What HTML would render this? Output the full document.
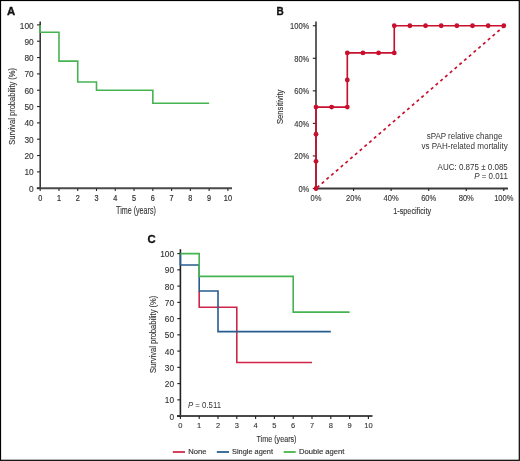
<!DOCTYPE html>
<html><head><meta charset="utf-8"><style>
html,body{margin:0;padding:0;background:#fff;}
svg{display:block;font-family:"Liberation Sans", sans-serif;will-change:transform;}
.c{stroke:#333;stroke-width:0.12px;}
.l{stroke:#333;stroke-width:0.15px;}
.t{stroke:#333;stroke-width:0.12px;}
.t2{stroke:#333;stroke-width:0.22px;}
</style></head><body>
<svg width="520" height="461" viewBox="0 0 520 461">
<rect x="0" y="0" width="520" height="461" fill="#fff"/>
<text x="7" y="15" font-size="11.3" text-anchor="start" fill="#111" font-weight="bold" stroke="#111" stroke-width="0.35">A</text>
<line x1="40.2" y1="21.5" x2="40.2" y2="188.95" stroke="#383838" stroke-width="1.6" />
<line x1="36.8" y1="188.2" x2="232" y2="188.2" stroke="#4a4a4a" stroke-width="2" />
<line x1="37" y1="188.2" x2="40.2" y2="188.2" stroke="#2a2a2a" stroke-width="1.1" />
<text x="33.7" y="191.8" font-size="8.3" text-anchor="end" fill="#333" font-weight="normal" class="t">0</text>
<line x1="37" y1="171.87" x2="40.2" y2="171.87" stroke="#2a2a2a" stroke-width="1.1" />
<text x="33.7" y="175.47" font-size="8.3" text-anchor="end" fill="#333" font-weight="normal" class="t">10</text>
<line x1="37" y1="155.54" x2="40.2" y2="155.54" stroke="#2a2a2a" stroke-width="1.1" />
<text x="33.7" y="159.14" font-size="8.3" text-anchor="end" fill="#333" font-weight="normal" class="t">20</text>
<line x1="37" y1="139.21" x2="40.2" y2="139.21" stroke="#2a2a2a" stroke-width="1.1" />
<text x="33.7" y="142.81" font-size="8.3" text-anchor="end" fill="#333" font-weight="normal" class="t">30</text>
<line x1="37" y1="122.88" x2="40.2" y2="122.88" stroke="#2a2a2a" stroke-width="1.1" />
<text x="33.7" y="126.48" font-size="8.3" text-anchor="end" fill="#333" font-weight="normal" class="t">40</text>
<line x1="37" y1="106.55" x2="40.2" y2="106.55" stroke="#2a2a2a" stroke-width="1.1" />
<text x="33.7" y="110.15" font-size="8.3" text-anchor="end" fill="#333" font-weight="normal" class="t">50</text>
<line x1="37" y1="90.22" x2="40.2" y2="90.22" stroke="#2a2a2a" stroke-width="1.1" />
<text x="33.7" y="93.82" font-size="8.3" text-anchor="end" fill="#333" font-weight="normal" class="t">60</text>
<line x1="37" y1="73.89" x2="40.2" y2="73.89" stroke="#2a2a2a" stroke-width="1.1" />
<text x="33.7" y="77.49" font-size="8.3" text-anchor="end" fill="#333" font-weight="normal" class="t">70</text>
<line x1="37" y1="57.56" x2="40.2" y2="57.56" stroke="#2a2a2a" stroke-width="1.1" />
<text x="33.7" y="61.16" font-size="8.3" text-anchor="end" fill="#333" font-weight="normal" class="t">80</text>
<line x1="37" y1="41.23" x2="40.2" y2="41.23" stroke="#2a2a2a" stroke-width="1.1" />
<text x="33.7" y="44.83" font-size="8.3" text-anchor="end" fill="#333" font-weight="normal" class="t">90</text>
<line x1="37" y1="24.9" x2="40.2" y2="24.9" stroke="#2a2a2a" stroke-width="1.1" />
<text x="33.7" y="28.5" font-size="8.3" text-anchor="end" fill="#333" font-weight="normal" class="t">100</text>
<line x1="40.2" y1="188.2" x2="40.2" y2="191" stroke="#2a2a2a" stroke-width="1.1" />
<text x="40.2" y="200.5" font-size="8.7" text-anchor="middle" fill="#333" font-weight="normal" textLength="4.06" lengthAdjust="spacingAndGlyphs" class="t2">0</text>
<line x1="58.97" y1="188.2" x2="58.97" y2="191" stroke="#2a2a2a" stroke-width="1.1" />
<text x="58.97" y="200.5" font-size="8.7" text-anchor="middle" fill="#333" font-weight="normal" textLength="4.06" lengthAdjust="spacingAndGlyphs" class="t2">1</text>
<line x1="77.74" y1="188.2" x2="77.74" y2="191" stroke="#2a2a2a" stroke-width="1.1" />
<text x="77.74" y="200.5" font-size="8.7" text-anchor="middle" fill="#333" font-weight="normal" textLength="4.06" lengthAdjust="spacingAndGlyphs" class="t2">2</text>
<line x1="96.51" y1="188.2" x2="96.51" y2="191" stroke="#2a2a2a" stroke-width="1.1" />
<text x="96.51" y="200.5" font-size="8.7" text-anchor="middle" fill="#333" font-weight="normal" textLength="4.06" lengthAdjust="spacingAndGlyphs" class="t2">3</text>
<line x1="115.28" y1="188.2" x2="115.28" y2="191" stroke="#2a2a2a" stroke-width="1.1" />
<text x="115.28" y="200.5" font-size="8.7" text-anchor="middle" fill="#333" font-weight="normal" textLength="4.06" lengthAdjust="spacingAndGlyphs" class="t2">4</text>
<line x1="134.05" y1="188.2" x2="134.05" y2="191" stroke="#2a2a2a" stroke-width="1.1" />
<text x="134.05" y="200.5" font-size="8.7" text-anchor="middle" fill="#333" font-weight="normal" textLength="4.06" lengthAdjust="spacingAndGlyphs" class="t2">5</text>
<line x1="152.82" y1="188.2" x2="152.82" y2="191" stroke="#2a2a2a" stroke-width="1.1" />
<text x="152.82" y="200.5" font-size="8.7" text-anchor="middle" fill="#333" font-weight="normal" textLength="4.06" lengthAdjust="spacingAndGlyphs" class="t2">6</text>
<line x1="171.59" y1="188.2" x2="171.59" y2="191" stroke="#2a2a2a" stroke-width="1.1" />
<text x="171.59" y="200.5" font-size="8.7" text-anchor="middle" fill="#333" font-weight="normal" textLength="4.06" lengthAdjust="spacingAndGlyphs" class="t2">7</text>
<line x1="190.36" y1="188.2" x2="190.36" y2="191" stroke="#2a2a2a" stroke-width="1.1" />
<text x="190.36" y="200.5" font-size="8.7" text-anchor="middle" fill="#333" font-weight="normal" textLength="4.06" lengthAdjust="spacingAndGlyphs" class="t2">8</text>
<line x1="209.13" y1="188.2" x2="209.13" y2="191" stroke="#2a2a2a" stroke-width="1.1" />
<text x="209.13" y="200.5" font-size="8.7" text-anchor="middle" fill="#333" font-weight="normal" textLength="4.06" lengthAdjust="spacingAndGlyphs" class="t2">9</text>
<line x1="227.9" y1="188.2" x2="227.9" y2="191" stroke="#2a2a2a" stroke-width="1.1" />
<text x="227.9" y="200.5" font-size="8.7" text-anchor="middle" fill="#333" font-weight="normal" textLength="8.13" lengthAdjust="spacingAndGlyphs" class="t2">10</text>
<text x="136" y="213.75" font-size="10.2" text-anchor="middle" fill="#333" font-weight="normal" textLength="39.8" lengthAdjust="spacingAndGlyphs" class="c">Time (years)</text>
<text transform="translate(15.2,106.4) rotate(-90)" x="0" y="0" font-size="9.5" text-anchor="middle" fill="#333" textLength="76.8" lengthAdjust="spacingAndGlyphs" class="c">Survival probability (%)</text>
<path d="M40.20,24.90 L40.20,32.25 L58.97,32.25 L58.97,61.15 L77.74,61.15 L77.74,82.05 L96.51,82.05 L96.51,90.22 L152.82,90.22 L152.82,103.28 L209.13,103.28" stroke="#45b450" stroke-width="1.6" fill="none" />
<text x="276.4" y="14.8" font-size="10.8" text-anchor="start" fill="#111" font-weight="bold" textLength="7.2" lengthAdjust="spacingAndGlyphs" stroke="#111" stroke-width="0.35">B</text>
<line x1="316" y1="21.5" x2="316" y2="188.5" stroke="#606060" stroke-width="2" />
<line x1="316" y1="188.5" x2="508" y2="188.5" stroke="#3a3a3a" stroke-width="2" />
<line x1="312.8" y1="188.5" x2="316" y2="188.5" stroke="#222" stroke-width="1.1" />
<text x="309.3" y="191.8" font-size="8.2" text-anchor="end" fill="#333" font-weight="normal" textLength="10.9" lengthAdjust="spacingAndGlyphs" class="t">0%</text>
<line x1="316" y1="188.5" x2="316" y2="191" stroke="#222" stroke-width="1.1" />
<text x="316" y="200.7" font-size="8.2" text-anchor="middle" fill="#333" font-weight="normal" textLength="10.9" lengthAdjust="spacingAndGlyphs" class="t">0%</text>
<line x1="312.8" y1="155.95" x2="316" y2="155.95" stroke="#222" stroke-width="1.1" />
<text x="309.3" y="159.25" font-size="8.2" text-anchor="end" fill="#333" font-weight="normal" textLength="15.1" lengthAdjust="spacingAndGlyphs" class="t">20%</text>
<line x1="353.56" y1="188.5" x2="353.56" y2="191" stroke="#222" stroke-width="1.1" />
<text x="353.56" y="200.7" font-size="8.2" text-anchor="middle" fill="#333" font-weight="normal" textLength="15.1" lengthAdjust="spacingAndGlyphs" class="t">20%</text>
<line x1="312.8" y1="123.4" x2="316" y2="123.4" stroke="#222" stroke-width="1.1" />
<text x="309.3" y="126.7" font-size="8.2" text-anchor="end" fill="#333" font-weight="normal" textLength="15.1" lengthAdjust="spacingAndGlyphs" class="t">40%</text>
<line x1="391.12" y1="188.5" x2="391.12" y2="191" stroke="#222" stroke-width="1.1" />
<text x="391.12" y="200.7" font-size="8.2" text-anchor="middle" fill="#333" font-weight="normal" textLength="15.1" lengthAdjust="spacingAndGlyphs" class="t">40%</text>
<line x1="312.8" y1="90.85" x2="316" y2="90.85" stroke="#222" stroke-width="1.1" />
<text x="309.3" y="94.15" font-size="8.2" text-anchor="end" fill="#333" font-weight="normal" textLength="15.1" lengthAdjust="spacingAndGlyphs" class="t">60%</text>
<line x1="428.68" y1="188.5" x2="428.68" y2="191" stroke="#222" stroke-width="1.1" />
<text x="428.68" y="200.7" font-size="8.2" text-anchor="middle" fill="#333" font-weight="normal" textLength="15.1" lengthAdjust="spacingAndGlyphs" class="t">60%</text>
<line x1="312.8" y1="58.3" x2="316" y2="58.3" stroke="#222" stroke-width="1.1" />
<text x="309.3" y="61.6" font-size="8.2" text-anchor="end" fill="#333" font-weight="normal" textLength="15.1" lengthAdjust="spacingAndGlyphs" class="t">80%</text>
<line x1="466.24" y1="188.5" x2="466.24" y2="191" stroke="#222" stroke-width="1.1" />
<text x="466.24" y="200.7" font-size="8.2" text-anchor="middle" fill="#333" font-weight="normal" textLength="15.1" lengthAdjust="spacingAndGlyphs" class="t">80%</text>
<line x1="312.8" y1="25.75" x2="316" y2="25.75" stroke="#222" stroke-width="1.1" />
<text x="309.3" y="29.05" font-size="8.2" text-anchor="end" fill="#333" font-weight="normal" textLength="19.29" lengthAdjust="spacingAndGlyphs" class="t">100%</text>
<line x1="503.8" y1="188.5" x2="503.8" y2="191" stroke="#222" stroke-width="1.1" />
<text x="503.8" y="200.7" font-size="8.2" text-anchor="middle" fill="#333" font-weight="normal" textLength="19.29" lengthAdjust="spacingAndGlyphs" class="t">100%</text>
<text x="412.2" y="213.6" font-size="9.2" text-anchor="middle" fill="#333" font-weight="normal" textLength="37.8" lengthAdjust="spacingAndGlyphs" class="c">1-specificity</text>
<text transform="translate(283.3,106.8) rotate(-90)" x="0" y="0" font-size="8.9" text-anchor="middle" fill="#333" textLength="34.4" lengthAdjust="spacingAndGlyphs" class="c">Sensitivity</text>
<line x1="316" y1="188.5" x2="503.8" y2="26.4" stroke="#c8102e" stroke-width="1.7" stroke-dasharray="3 3.27" stroke-dashoffset="-1.33"/>
<path d="M316.00,188.50 L316.00,161.37 L316.00,134.26 L316.00,107.12 L331.64,107.12 L347.31,107.12 L347.31,79.99 L347.31,52.88 L362.95,52.88 L378.59,52.88 L394.26,52.88 L394.26,25.75 L409.90,25.75 L425.54,25.75 L441.21,25.75 L456.85,25.75 L472.49,25.75 L488.16,25.75 L503.80,25.75" stroke="#c8102e" stroke-width="1.65" fill="none" />
<circle cx="316.00" cy="188.50" r="2.4" fill="#c8102e"/>
<circle cx="316.00" cy="161.37" r="2.4" fill="#c8102e"/>
<circle cx="316.00" cy="134.26" r="2.4" fill="#c8102e"/>
<circle cx="316.00" cy="107.12" r="2.4" fill="#c8102e"/>
<circle cx="331.64" cy="107.12" r="2.4" fill="#c8102e"/>
<circle cx="347.31" cy="107.12" r="2.4" fill="#c8102e"/>
<circle cx="347.31" cy="79.99" r="2.4" fill="#c8102e"/>
<circle cx="347.31" cy="52.88" r="2.4" fill="#c8102e"/>
<circle cx="362.95" cy="52.88" r="2.4" fill="#c8102e"/>
<circle cx="378.59" cy="52.88" r="2.4" fill="#c8102e"/>
<circle cx="394.26" cy="52.88" r="2.4" fill="#c8102e"/>
<circle cx="394.26" cy="25.75" r="2.4" fill="#c8102e"/>
<circle cx="409.90" cy="25.75" r="2.4" fill="#c8102e"/>
<circle cx="425.54" cy="25.75" r="2.4" fill="#c8102e"/>
<circle cx="441.21" cy="25.75" r="2.4" fill="#c8102e"/>
<circle cx="456.85" cy="25.75" r="2.4" fill="#c8102e"/>
<circle cx="472.49" cy="25.75" r="2.4" fill="#c8102e"/>
<circle cx="488.16" cy="25.75" r="2.4" fill="#c8102e"/>
<circle cx="503.80" cy="25.75" r="2.4" fill="#c8102e"/>
<text x="464.5" y="139.3" font-size="8.3" text-anchor="middle" fill="#333" font-weight="normal" textLength="75.7" lengthAdjust="spacingAndGlyphs" >sPAP relative change</text>
<text x="464.6" y="148.5" font-size="8.3" text-anchor="middle" fill="#333" font-weight="normal" textLength="86.2" lengthAdjust="spacingAndGlyphs" >vs PAH-related mortality</text>
<text x="507.8" y="170.3" font-size="8.3" text-anchor="end" fill="#333" font-weight="normal" textLength="70.2" lengthAdjust="spacingAndGlyphs" >AUC: 0.875 ± 0.085</text>
<text x="507.8" y="179.4" font-size="8.3" text-anchor="end" fill="#333" font-weight="normal" textLength="33.6" lengthAdjust="spacingAndGlyphs" ><tspan font-style="italic">P</tspan> = 0.011</text>
<text x="147.5" y="243.2" font-size="11.3" text-anchor="start" fill="#111" font-weight="bold" stroke="#111" stroke-width="0.35">C</text>
<line x1="180.4" y1="249.2" x2="180.4" y2="416.85" stroke="#222" stroke-width="1.6" />
<line x1="177" y1="416.1" x2="372.5" y2="416.1" stroke="#4a4a4a" stroke-width="2" />
<line x1="177.3" y1="416.1" x2="180.4" y2="416.1" stroke="#1e1e1e" stroke-width="1.1" />
<text x="174" y="419.6" font-size="8.3" text-anchor="end" fill="#333" font-weight="normal" class="t">0</text>
<line x1="177.3" y1="399.85" x2="180.4" y2="399.85" stroke="#1e1e1e" stroke-width="1.1" />
<text x="174" y="403.35" font-size="8.3" text-anchor="end" fill="#333" font-weight="normal" class="t">10</text>
<line x1="177.3" y1="383.6" x2="180.4" y2="383.6" stroke="#1e1e1e" stroke-width="1.1" />
<text x="174" y="387.1" font-size="8.3" text-anchor="end" fill="#333" font-weight="normal" class="t">20</text>
<line x1="177.3" y1="367.35" x2="180.4" y2="367.35" stroke="#1e1e1e" stroke-width="1.1" />
<text x="174" y="370.85" font-size="8.3" text-anchor="end" fill="#333" font-weight="normal" class="t">30</text>
<line x1="177.3" y1="351.1" x2="180.4" y2="351.1" stroke="#1e1e1e" stroke-width="1.1" />
<text x="174" y="354.6" font-size="8.3" text-anchor="end" fill="#333" font-weight="normal" class="t">40</text>
<line x1="177.3" y1="334.85" x2="180.4" y2="334.85" stroke="#1e1e1e" stroke-width="1.1" />
<text x="174" y="338.35" font-size="8.3" text-anchor="end" fill="#333" font-weight="normal" class="t">50</text>
<line x1="177.3" y1="318.6" x2="180.4" y2="318.6" stroke="#1e1e1e" stroke-width="1.1" />
<text x="174" y="322.1" font-size="8.3" text-anchor="end" fill="#333" font-weight="normal" class="t">60</text>
<line x1="177.3" y1="302.35" x2="180.4" y2="302.35" stroke="#1e1e1e" stroke-width="1.1" />
<text x="174" y="305.85" font-size="8.3" text-anchor="end" fill="#333" font-weight="normal" class="t">70</text>
<line x1="177.3" y1="286.1" x2="180.4" y2="286.1" stroke="#1e1e1e" stroke-width="1.1" />
<text x="174" y="289.6" font-size="8.3" text-anchor="end" fill="#333" font-weight="normal" class="t">80</text>
<line x1="177.3" y1="269.85" x2="180.4" y2="269.85" stroke="#1e1e1e" stroke-width="1.1" />
<text x="174" y="273.35" font-size="8.3" text-anchor="end" fill="#333" font-weight="normal" class="t">90</text>
<line x1="177.3" y1="253.6" x2="180.4" y2="253.6" stroke="#1e1e1e" stroke-width="1.1" />
<text x="174" y="257.1" font-size="8.3" text-anchor="end" fill="#333" font-weight="normal" class="t">100</text>
<line x1="180.4" y1="416.1" x2="180.4" y2="419" stroke="#1e1e1e" stroke-width="1.1" />
<text x="180.4" y="428.4" font-size="8.1" text-anchor="middle" fill="#333" font-weight="normal" textLength="4.19" lengthAdjust="spacingAndGlyphs" class="t">0</text>
<line x1="199.2" y1="416.1" x2="199.2" y2="419" stroke="#1e1e1e" stroke-width="1.1" />
<text x="199.2" y="428.4" font-size="8.1" text-anchor="middle" fill="#333" font-weight="normal" textLength="4.19" lengthAdjust="spacingAndGlyphs" class="t">1</text>
<line x1="218" y1="416.1" x2="218" y2="419" stroke="#1e1e1e" stroke-width="1.1" />
<text x="218" y="428.4" font-size="8.1" text-anchor="middle" fill="#333" font-weight="normal" textLength="4.19" lengthAdjust="spacingAndGlyphs" class="t">2</text>
<line x1="236.8" y1="416.1" x2="236.8" y2="419" stroke="#1e1e1e" stroke-width="1.1" />
<text x="236.8" y="428.4" font-size="8.1" text-anchor="middle" fill="#333" font-weight="normal" textLength="4.19" lengthAdjust="spacingAndGlyphs" class="t">3</text>
<line x1="255.6" y1="416.1" x2="255.6" y2="419" stroke="#1e1e1e" stroke-width="1.1" />
<text x="255.6" y="428.4" font-size="8.1" text-anchor="middle" fill="#333" font-weight="normal" textLength="4.19" lengthAdjust="spacingAndGlyphs" class="t">4</text>
<line x1="274.4" y1="416.1" x2="274.4" y2="419" stroke="#1e1e1e" stroke-width="1.1" />
<text x="274.4" y="428.4" font-size="8.1" text-anchor="middle" fill="#333" font-weight="normal" textLength="4.19" lengthAdjust="spacingAndGlyphs" class="t">5</text>
<line x1="293.2" y1="416.1" x2="293.2" y2="419" stroke="#1e1e1e" stroke-width="1.1" />
<text x="293.2" y="428.4" font-size="8.1" text-anchor="middle" fill="#333" font-weight="normal" textLength="4.19" lengthAdjust="spacingAndGlyphs" class="t">6</text>
<line x1="312" y1="416.1" x2="312" y2="419" stroke="#1e1e1e" stroke-width="1.1" />
<text x="312" y="428.4" font-size="8.1" text-anchor="middle" fill="#333" font-weight="normal" textLength="4.19" lengthAdjust="spacingAndGlyphs" class="t">7</text>
<line x1="330.8" y1="416.1" x2="330.8" y2="419" stroke="#1e1e1e" stroke-width="1.1" />
<text x="330.8" y="428.4" font-size="8.1" text-anchor="middle" fill="#333" font-weight="normal" textLength="4.19" lengthAdjust="spacingAndGlyphs" class="t">8</text>
<line x1="349.6" y1="416.1" x2="349.6" y2="419" stroke="#1e1e1e" stroke-width="1.1" />
<text x="349.6" y="428.4" font-size="8.1" text-anchor="middle" fill="#333" font-weight="normal" textLength="4.19" lengthAdjust="spacingAndGlyphs" class="t">9</text>
<line x1="368.4" y1="416.1" x2="368.4" y2="419" stroke="#1e1e1e" stroke-width="1.1" />
<text x="368.4" y="428.4" font-size="8.1" text-anchor="middle" fill="#333" font-weight="normal" textLength="8.38" lengthAdjust="spacingAndGlyphs" class="t">10</text>
<text x="276.5" y="441.5" font-size="9.6" text-anchor="middle" fill="#333" font-weight="normal" textLength="40" lengthAdjust="spacingAndGlyphs" class="c">Time (years)</text>
<text transform="translate(155.6,334.4) rotate(-90)" x="0" y="0" font-size="9.5" text-anchor="middle" fill="#333" textLength="77.4" lengthAdjust="spacingAndGlyphs" class="c">Survival probability (%)</text>
<text x="188" y="408" font-size="8.3" text-anchor="start" fill="#333" font-weight="normal" textLength="33" lengthAdjust="spacingAndGlyphs" ><tspan font-style="italic">P</tspan> = 0.511</text>
<path d="M199.20,290.98 L199.20,307.23 L236.80,307.23 L236.80,362.48 L312.00,362.48" stroke="#cf2546" stroke-width="1.6" fill="none" />
<path d="M180.40,253.60 L180.40,264.98 L199.20,264.98 L199.20,290.98 L218.00,290.98 L218.00,331.60 L330.80,331.60" stroke="#275c8f" stroke-width="1.6" fill="none" />
<path d="M180.40,253.60 L199.20,253.60 L199.20,276.35 L293.20,276.35 L293.20,312.10 L349.60,312.10" stroke="#45b450" stroke-width="1.6" fill="none" />
<line x1="172.8" y1="452" x2="185" y2="452" stroke="#d6425e" stroke-width="2" />
<text x="188.3" y="454" font-size="7.3" text-anchor="start" fill="#333" font-weight="normal" textLength="18.2" lengthAdjust="spacingAndGlyphs" class="l">None</text>
<line x1="216.8" y1="452" x2="229" y2="452" stroke="#3e7098" stroke-width="2" />
<text x="232" y="454" font-size="7.3" text-anchor="start" fill="#333" font-weight="normal" textLength="41" lengthAdjust="spacingAndGlyphs" class="l">Single agent</text>
<line x1="283.7" y1="452" x2="295.7" y2="452" stroke="#58bc58" stroke-width="2" />
<text x="299" y="454" font-size="7.3" text-anchor="start" fill="#333" font-weight="normal" textLength="45.5" lengthAdjust="spacingAndGlyphs" class="l">Double agent</text>
<rect x="0.5" y="0.5" width="518.8" height="459.8" fill="none" stroke="#000" stroke-width="1.2"/>
</svg>
</body></html>
